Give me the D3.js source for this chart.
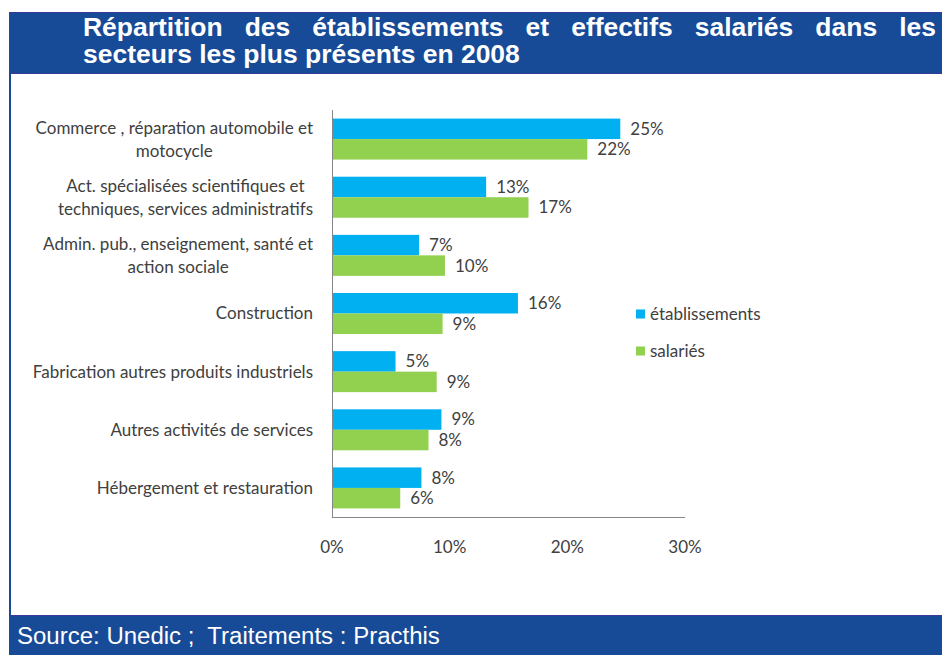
<!DOCTYPE html>
<html lang="fr">
<head>
<meta charset="UTF-8">
<title>Répartition des établissements</title>
<script src="https://cdn.jsdelivr.net/npm/d3@7"></script>
<style>
  body { margin: 0; background: #fff; }
  svg { display: block; }
  .cat text, .val, .legend text, .axis text { font-family: Lato, "Open Sans", sans-serif; font-size: 17px; fill: #404040; }
  .banner text { font-family: "Liberation Sans", Arial, sans-serif; fill: #fff; white-space: pre; }
</style>
</head>
<body>
<div id="chart"></div>
<script>
// données
const categories = [
  "Commerce , réparation automobile et\nmotocycle",
  "Act. spécialisées scientifiques et\ntechniques, services administratifs",
  "Admin. pub., enseignement, santé et\naction sociale",
  "Construction",
  "Fabrication autres produits industriels",
  "Autres activités de services",
  "Hébergement et restauration"
];
const etablissements = [24.5, 13.1, 7.4, 15.8, 5.4, 9.3, 7.6];
const salaries = [21.7, 16.7, 9.6, 9.4, 8.9, 8.2, 5.8];
const seriesNames = ["établissements", "salariés"];
const xTicks = [0, 10, 20, 30];

const W = 942, H = 655;
const colors = ["#00B0F0", "#92D050"];
const blue = "#174A97";

const svg = d3.select("#chart").append("svg").attr("width", W).attr("height", H);

// cadre : barre de titre, filet gauche, pied
svg.append("rect").attr("x", 9.5).attr("y", 12.5).attr("width", W).attr("height", 61)
  .attr("fill", blue).attr("stroke", "#3a3a98").attr("stroke-width", 1);
svg.append("rect").attr("x", 9).attr("y", 74).attr("width", 2).attr("height", 541).attr("fill", blue);
svg.append("rect").attr("x", 9).attr("y", 615).attr("width", W).attr("height", 40).attr("fill", blue);
svg.append("line").attr("x1", 9).attr("x2", W).attr("y1", 615.5).attr("y2", 615.5).attr("stroke", "#3a3a98");

// titre justifié
const banner = svg.append("g").attr("class", "banner");
const titleLines = ["Répartition des établissements et effectifs salariés dans les", "secteurs les plus présents en 2008"];
const tSize = 25;
const tg = banner.append("g");
const t2 = tg.append("text").attr("font-size", tSize).attr("font-weight", "bold").attr("x", 0).attr("y", 63).text(titleLines[1]);
const sx = 437 / t2.node().getComputedTextLength();
tg.attr("transform", `translate(83,0) scale(${sx},1)`);
const line1 = titleLines[0].split(" ");
const words = line1.map(w => tg.append("text").attr("font-size", tSize).attr("font-weight", "bold").attr("y", 36).text(w));
const widths = words.map(t => t.node().getComputedTextLength());
const avail = (936 - 83) / sx;
const gap = (avail - d3.sum(widths)) / (line1.length - 1);
let cx = 0;
words.forEach((t, i) => { t.attr("x", cx); cx += widths[i] + gap; });

const src = banner.append("g").append("text").attr("font-size", 23).attr("y", 644)
  .text("Source: Unedic ;  Traitements : Practhis");
const ssx = 423 / src.node().getComputedTextLength();
src.node().parentNode.setAttribute("transform", `translate(17,0) scale(${ssx},1)`);

// échelles
const x = d3.scaleLinear().domain([0, 30]).range([332, 685]);
const y = d3.scaleBand().domain(categories).range([110, 517]).paddingInner(0.295).paddingOuter(0.1475);
const ys = d3.scaleBand().domain(seriesNames).range([0, y.bandwidth()]);

const data = categories.map((c, i) => ({ cat: c, vals: [etablissements[i], salaries[i]] }));

const groups = svg.append("g").selectAll("g").data(data).join("g")
  .attr("transform", d => `translate(0,${y(d.cat)})`);

groups.selectAll("rect").data(d => d.vals.map((v, j) => ({ v, j }))).join("rect")
  .attr("x", x(0)).attr("y", d => ys(seriesNames[d.j]))
  .attr("width", d => x(d.v) - x(0)).attr("height", ys.bandwidth())
  .attr("fill", d => colors[d.j]);

groups.selectAll("text.val").data(d => d.vals.map((v, j) => ({ v, j }))).join("text")
  .attr("class", "val")
  .attr("x", d => x(d.v) + 10).attr("y", d => ys(seriesNames[d.j]) + ys.bandwidth() / 2)
  .attr("dy", "0.35em")
  .text(d => Math.round(d.v) + "%");

// libellés de catégories (centrés, bloc aligné à droite)
const catG = svg.append("g").attr("class", "cat");
categories.forEach(c => {
  const lines = c.split("\n");
  const g = catG.append("g");
  const ts = lines.map((l, k) => g.append("text").attr("text-anchor", "middle")
    .attr("y", y(c) + y.bandwidth() / 2 + (k - (lines.length - 1) / 2) * 23).attr("dy", "0.35em").text(l));
  const maxW = d3.max(ts, t => t.node().getComputedTextLength());
  ts.forEach(t => t.attr("x", 313 - maxW / 2));
});

// axes
const axis = svg.append("g").attr("class", "axis");
axis.append("line").attr("x1", x(0) + 0.5).attr("x2", x(0) + 0.5).attr("y1", 110).attr("y2", 517.5).attr("stroke", "#868686");
axis.append("line").attr("x1", x(0)).attr("x2", x(30)).attr("y1", 517.5).attr("y2", 517.5).attr("stroke", "#868686");
axis.selectAll("text.tick").data(xTicks).join("text")
  .attr("x", d => x(d)).attr("y", 547).attr("dy", "0.35em").attr("text-anchor", "middle")
  .text(d => d + "%");

// légende
const leg = svg.append("g").attr("class", "legend").selectAll("g").data(seriesNames).join("g")
  .attr("transform", (d, i) => `translate(636,${314 + i * 37})`);
leg.append("rect").attr("x", 0).attr("y", -4.5).attr("width", 9).attr("height", 9).attr("fill", (d, i) => colors[i]);
leg.append("text").attr("x", 14).attr("dy", "0.35em").text(d => d);
</script>
</body>
</html>
